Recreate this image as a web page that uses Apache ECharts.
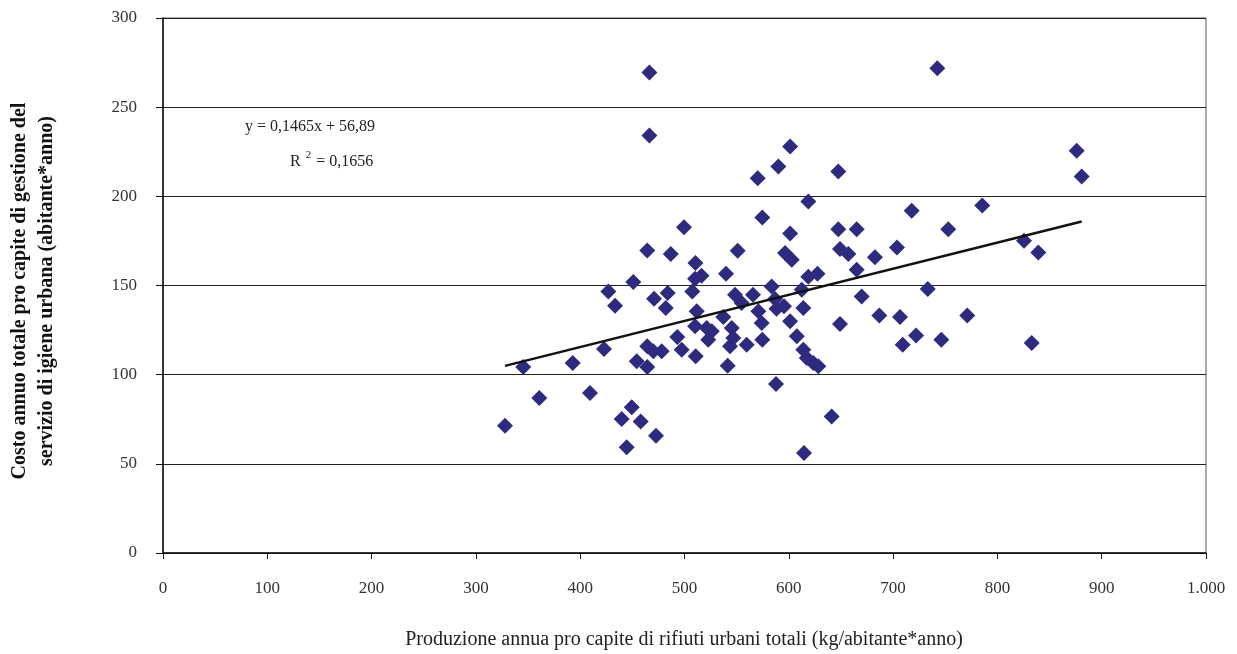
<!DOCTYPE html>
<html>
<head>
<meta charset="utf-8">
<script src="https://cdn.jsdelivr.net/npm/echarts@6/dist/echarts.min.js"></script>
<style>
html,body{margin:0;padding:0;background:#fff;}
#chart{width:1237px;height:654px;}
</style>
</head>
<body>
<div id="chart"></div>
<script>
// Data: production (kg/abitante*anno) vs cost
const xValues = [327.9,345.4,360.8,392.8,409.4,422.8,427.0,433.4,450.9,454.2,449.4,439.8,458.0,444.6,472.7,464.3,464.3,466.3,466.3,464.3,470.8,470.1,478.1,482.0,483.9,486.8,493.1,497.3,499.5,510.5,507.5,510.7,516.3,510.1,511.7,510.1,521.3,526.1,522.8,537.2,539.8,545.3,546.8,543.6,541.4,551.0,548.4,554.8,559.6,565.7,570.2,574.6,570.8,574.0,574.6,583.6,586.8,588.2,595.4,590.0,601.3,601.3,596.4,602.8,601.3,607.7,587.7,612.4,618.7,618.7,627.5,613.9,613.9,617.2,623.5,628.3,614.6,641.1,647.5,647.5,665.1,649.1,657.1,665.1,669.9,649.1,682.6,686.8,703.7,706.6,722.0,709.2,717.8,733.2,742.4,746.2,752.9,771.1,785.5,825.5,839.2,832.9,876.0,880.8];
const yValues = [71.4,104.3,86.9,106.6,89.7,114.4,146.7,138.7,151.9,107.5,81.7,75.2,73.8,59.3,65.8,115.9,104.3,269.4,234.1,169.6,142.6,113.1,113.1,137.4,145.8,167.6,121.1,114.0,182.6,162.6,146.7,110.3,155.5,153.8,135.5,127.1,126.2,124.3,119.6,132.3,156.6,126.2,120.6,115.9,105.0,169.5,144.8,140.2,116.8,144.8,210.2,188.1,135.5,129.0,119.6,149.5,142.4,137.0,138.4,216.7,227.9,179.1,168.2,164.4,129.9,121.5,94.8,147.6,197.1,154.9,156.6,137.4,114.0,109.4,106.6,104.7,56.1,76.6,213.9,181.6,181.6,170.4,167.6,158.8,143.9,128.4,165.9,133.2,171.3,132.3,122.0,116.8,191.9,148.0,271.8,119.6,181.6,133.2,194.9,175.1,168.5,117.8,225.5,211.1];
const slope = 0.1465;
const intercept = 56.89;
const equationText = 'y = 0,1465x + 56,89';
const r2Value = '0,1656';
const xTitle = 'Produzione annua pro capite di rifiuti urbani totali (kg/abitante*anno)';
const yTitleLines = ['Costo annuo totale pro capite di gestione del','servizio di igiene urbana (abitante*anno)'];

const points = xValues.map((x, i) => [x, yValues[i]]);
const xMin = Math.min(...xValues), xMax = Math.max(...xValues);
const trend = [[xMin, slope * xMin + intercept], [xMax, slope * xMax + intercept]];

const serif = '"Liberation Serif", "DejaVu Serif", serif';
const chart = echarts.init(document.getElementById('chart'));
chart.setOption({
  animation: false,
  backgroundColor: '#fff',
  grid: { left: 163, right: 31, top: 18, bottom: 101, show: true, borderColor: '#555', borderWidth: 1 },
  xAxis: {
    type: 'value', min: 0, max: 1000, interval: 100,
    axisLine: { show: true, onZero: false, lineStyle: { color: '#111', width: 1.5 } },
    axisTick: { show: true, length: 6, lineStyle: { color: '#111' } },
    axisLabel: { margin: 27, color: '#333', fontFamily: serif, fontSize: 17,
      formatter: v => v >= 1000 ? (Math.floor(v/1000) + '.' + String(v%1000).padStart(3,'0')) : String(v) },
    splitLine: { show: false }
  },
  yAxis: {
    type: 'value', min: 0, max: 300, interval: 50,
    axisLine: { show: true, onZero: false, lineStyle: { color: '#111', width: 1.5 } },
    axisTick: { show: true, length: 7, lineStyle: { color: '#111' } },
    axisLabel: { margin: 26, color: '#333', fontFamily: serif, fontSize: 17 },
    splitLine: { show: true, lineStyle: { color: '#222', width: 1.2 } }
  },
  series: [
    {
      type: 'scatter', data: points, symbol: 'diamond', symbolSize: 16,
      itemStyle: { color: '#2e2b7f', opacity: 1 }, z: 3
    },
    {
      type: 'line', data: trend, symbol: 'none',
      lineStyle: { color: '#111', width: 2.5 }, z: 4
    }
  ],
  graphic: [
    { type: 'text', left: 245, top: 119, style: { text: equationText, font: '16px ' + serif, fill: '#222' } },
    { type: 'text', left: 290, top: 150, style: {
        text: '{b|R}{s|2}{b| = ' + r2Value + '}',
        rich: {
          b: { font: '16px ' + serif, fill: '#222', padding: [6, 0, 0, 0] },
          s: { font: '11px ' + serif, fill: '#222', padding: [0, 1, 6, 5] }
        } } },
    { type: 'text', x: 684, y: 640, style: { text: xTitle, font: '20px ' + serif, fill: '#222', align: 'center', verticalAlign: 'middle' } },
    { type: 'text', x: 20, y: 291, rotation: Math.PI / 2, style: { text: yTitleLines[0], font: 'bold 20px ' + serif, fill: '#111', align: 'center', verticalAlign: 'middle' } },
    { type: 'text', x: 47, y: 291, rotation: Math.PI / 2, style: { text: yTitleLines[1], font: 'bold 20px ' + serif, fill: '#111', align: 'center', verticalAlign: 'middle' } }
  ]
});
</script>
</body>
</html>
